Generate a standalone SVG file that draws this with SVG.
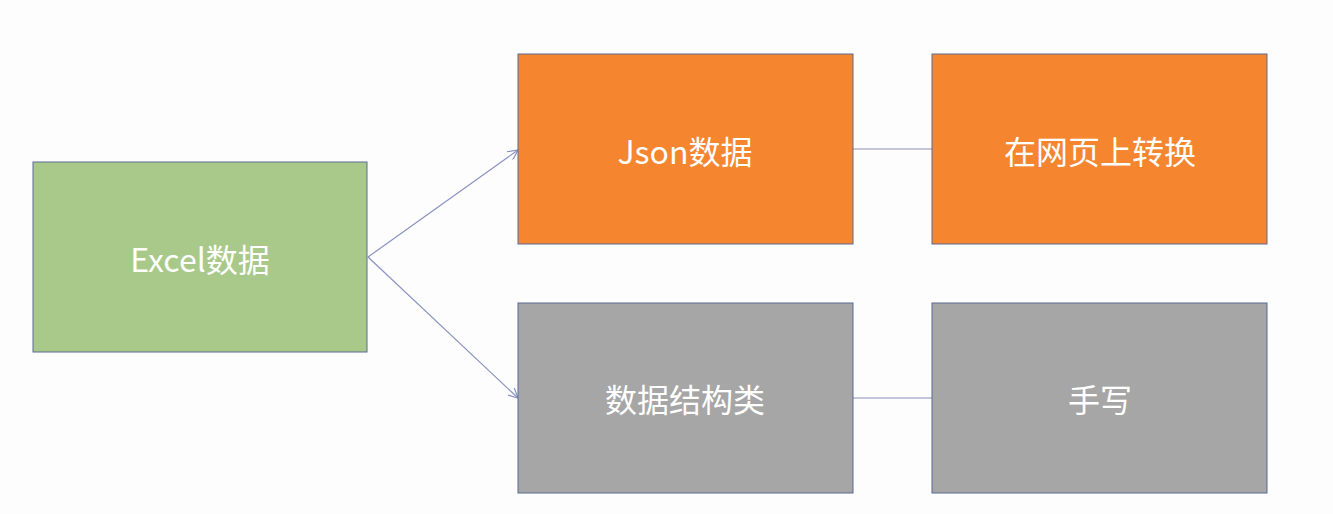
<svg xmlns="http://www.w3.org/2000/svg" width="1333" height="514" viewBox="0 0 1333 514">
<style>
.b{stroke:#5a6a94;stroke-width:1}
.g{fill:#a9c98b}.o{fill:#f5852f}.y{fill:#a6a6a6}
text{fill:#fff;font-family:"Noto Sans CJK SC","Noto Sans",sans-serif;font-size:32px;text-anchor:middle;dominant-baseline:central}
.c{stroke:#8a92c0;stroke-width:1.2;fill:none}
</style>
<defs><marker id="a" viewBox="0 0 10 10" refX="10" refY="5" markerWidth="10" markerHeight="10" markerUnits="userSpaceOnUse" orient="auto"><path d="M0,0L10,5L0,10" fill="none" stroke="#8a92c0" stroke-width="1.2"/></marker></defs>
<rect width="1333" height="514" fill="#fdfdfd"/>
<g id="connectors">
<line class="c" x1="368" y1="257" x2="518" y2="150" marker-end="url(#a)"/>
<line class="c" x1="368" y1="257" x2="518" y2="398" marker-end="url(#a)"/>
<line class="c" x1="853" y1="149" x2="932" y2="149"/>
<line class="c" x1="853" y1="398" x2="932" y2="398"/>
</g>
<g id="excel"><rect class="b g" x="33" y="162" width="334" height="190"/><text x="200" y="258">Excel数据</text></g>
<g id="json"><rect class="b o" x="518" y="54" width="335" height="190"/><text x="685" y="150">Json数据</text></g>
<g id="web"><rect class="b o" x="932" y="54" width="335" height="190"/><text x="1100" y="150">在网页上转换</text></g>
<g id="struct"><rect class="b y" x="518" y="303" width="335" height="190"/><text x="685" y="398">数据结构类</text></g>
<g id="hand"><rect class="b y" x="932" y="303" width="335" height="190"/><text x="1100" y="398">手写</text></g>
</svg>
